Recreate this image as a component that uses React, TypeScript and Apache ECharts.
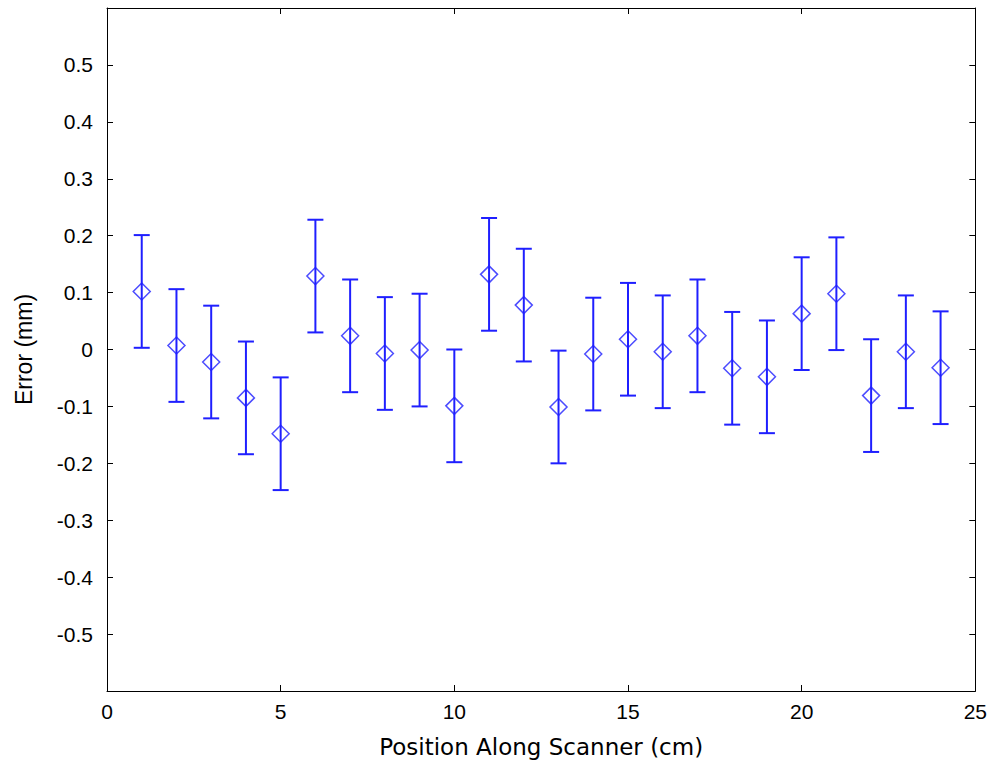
import React, { useEffect, useRef } from "react";
import * as echarts from "echarts";

const positions = [1, 2, 3, 4, 5, 6, 7, 8, 9, 10, 11, 12, 13, 14, 15, 16, 17, 18, 19, 20, 21, 22, 23, 24];
const errorMean = [0.102, 0.007, -0.022, -0.085, -0.148, 0.129, 0.024, -0.007, -0.001, -0.099, 0.132, 0.078, -0.101, -0.008, 0.018, -0.004, 0.024, -0.033, -0.048, 0.063, 0.098, -0.081, -0.004, -0.032];
const errorBar = [0.099, 0.099, 0.099, 0.099, 0.099, 0.099, 0.099, 0.099, 0.099, 0.099, 0.099, 0.099, 0.099, 0.099, 0.099, 0.099, 0.099, 0.099, 0.099, 0.099, 0.099, 0.099, 0.099, 0.099];
const xTitle = "Position Along Scanner (cm)";
const yTitle = "Error (mm)";

const BLUE = "#1f1fff";
const AXIS = "#000000";

export default function App() {
  const ref = useRef<HTMLDivElement>(null);
  useEffect(() => {
    if (!ref.current) return;
    const chart = echarts.init(ref.current, null, { renderer: "svg" });
    const barData = positions.map((x, i) => [x, errorMean[i] - errorBar[i], errorMean[i] + errorBar[i]]);
    const pointData = positions.map((x, i) => [x, errorMean[i]]);
    const tickFont = { fontFamily: "Liberation Sans, Arial, sans-serif", fontSize: 21, color: "#000" };
    const yFmt = (v: number) => (Math.abs(Math.abs(v) - 0.6) < 1e-9 ? "" : String(Math.round(v * 10) / 10));
    const line = { show: true, onZero: false, lineStyle: { color: AXIS, width: 1 } };
    const tick = { show: true, inside: true, length: 6, lineStyle: { color: AXIS } };
    chart.setOption({
      animation: false,
      backgroundColor: "#ffffff",
      grid: { left: 107, top: 8, width: 869, height: 683, containLabel: false },
      xAxis: [
        {
          type: "value",
          min: 0,
          max: 25,
          interval: 5,
          position: "bottom",
          name: xTitle,
          nameLocation: "middle",
          nameGap: 44,
          nameTextStyle: { fontFamily: "DejaVu Sans, sans-serif", fontSize: 23, color: "#000" },
          axisLine: line,
          axisTick: tick,
          axisLabel: { ...tickFont, margin: 10 },
          splitLine: { show: false },
        },
        {
          type: "value",
          min: 0,
          max: 25,
          interval: 5,
          position: "top",
          axisLine: line,
          axisTick: tick,
          axisLabel: { show: false },
          splitLine: { show: false },
        },
      ],
      yAxis: [
        {
          type: "value",
          min: -0.6,
          max: 0.6,
          interval: 0.1,
          position: "left",
          name: yTitle,
          nameLocation: "middle",
          nameGap: 72,
          nameTextStyle: { fontFamily: "Liberation Sans, Arial, sans-serif", fontSize: 23, color: "#000" },
          axisLine: line,
          axisTick: tick,
          axisLabel: { ...tickFont, margin: 14, formatter: yFmt },
          splitLine: { show: false },
        },
        {
          type: "value",
          min: -0.6,
          max: 0.6,
          interval: 0.1,
          position: "right",
          axisLine: line,
          axisTick: tick,
          axisLabel: { show: false },
          splitLine: { show: false },
        },
      ],
      series: [
        {
          type: "custom",
          xAxisIndex: 0,
          yAxisIndex: 0,
          data: barData,
          renderItem: (params: any, api: any) => {
            const x = api.value(0);
            const lo = api.coord([x, api.value(1)]);
            const hi = api.coord([x, api.value(2)]);
            const cap = 8;
            const style = { stroke: BLUE, lineWidth: 2 };
            return {
              type: "group",
              children: [
                { type: "line", shape: { x1: hi[0], y1: hi[1], x2: lo[0], y2: lo[1] }, style },
                { type: "line", shape: { x1: hi[0] - cap, y1: hi[1], x2: hi[0] + cap, y2: hi[1] }, style },
                { type: "line", shape: { x1: lo[0] - cap, y1: lo[1], x2: lo[0] + cap, y2: lo[1] }, style },
              ],
            };
          },
          encode: { x: 0, y: [1, 2] },
          z: 2,
        },
        {
          type: "scatter",
          xAxisIndex: 0,
          yAxisIndex: 0,
          data: pointData,
          symbol: "diamond",
          symbolSize: [17, 17],
          itemStyle: { color: "rgba(0,0,0,0)", borderColor: BLUE, borderWidth: 1.5 },
          z: 3,
        },
      ],
    });
    return () => chart.dispose();
  }, []);
  return (
    <div
      ref={ref}
      style={{ position: "fixed", left: 0, top: 0, width: 990, height: 766, background: "#fff" }}
    />
  );
}
